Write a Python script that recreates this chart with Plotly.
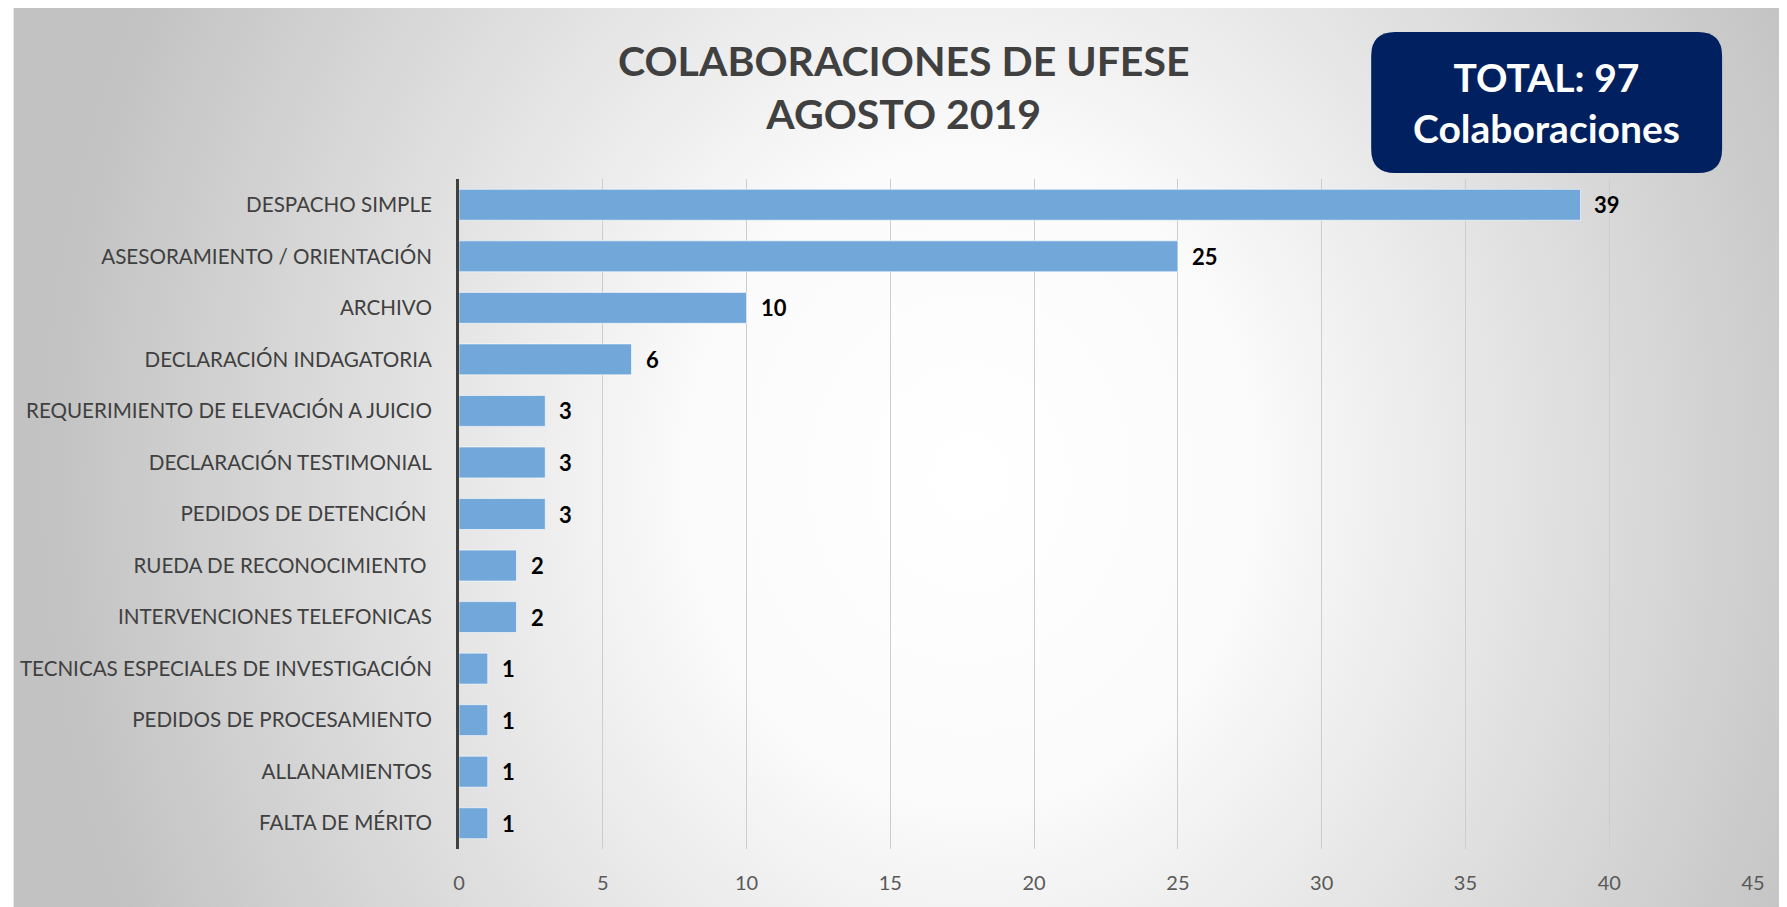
import base64
import plotly.graph_objects as go

categorias = [
    "DESPACHO SIMPLE",
    "ASESORAMIENTO / ORIENTACIÓN",
    "ARCHIVO",
    "DECLARACIÓN INDAGATORIA",
    "REQUERIMIENTO DE ELEVACIÓN A JUICIO",
    "DECLARACIÓN TESTIMONIAL",
    "PEDIDOS DE DETENCIÓN\u00a0",
    "RUEDA DE RECONOCIMIENTO\u00a0",
    "INTERVENCIONES TELEFONICAS",
    "TECNICAS ESPECIALES DE INVESTIGACIÓN",
    "PEDIDOS DE PROCESAMIENTO",
    "ALLANAMIENTOS",
    "FALTA DE MÉRITO",
]
valores = [39, 25, 10, 6, 3, 3, 3, 2, 2, 1, 1, 1, 1]
ticks_x = [0, 5, 10, 15, 20, 25, 30, 35, 40, 45]
titulo = "COLABORACIONES DE UFESE<br>AGOSTO 2019"
total_txt = "TOTAL: 97<br>Colaboraciones"

# the page adds an 8px margin, so the figure is 8px smaller than the window
W, H = 1779, 899
L, R, T, B = 447, 1745, 171, 841   # plot area in pixels
pw, ph = R - L, B - T


def px(x):
    return (x - L) / pw


def py(y):
    return (B - y) / ph


# radial grey background, like the excel chart area
bg_svg = (
    "<svg xmlns='http://www.w3.org/2000/svg' width='1779' height='899' "
    "viewBox='0 0 1779 899' preserveAspectRatio='none'>"
    "<defs><radialGradient id='g' gradientUnits='userSpaceOnUse' cx='960' cy='470' r='930' "
    "gradientTransform='translate(960 470) scale(1 1.15) translate(-960 -470)'>"
    "<stop offset='0' stop-color='#ffffff'/><stop offset='0.3' stop-color='#fbfbfb'/>"
    "<stop offset='1' stop-color='#c2c2c2'/></radialGradient></defs>"
    "<rect width='1779' height='899' fill='url(#g)'/></svg>"
)
bg_src = "data:image/svg+xml;base64," + base64.b64encode(bg_svg.encode()).decode()

fig = go.Figure(go.Bar(
    x=valores, y=categorias, orientation="h",
    marker=dict(color="#72a7da", line=dict(color="rgba(255,255,255,0.6)", width=1)),
    width=0.6, hoverinfo="skip",
))

# value labels right of each bar
for c, v in zip(categorias, valores):
    fig.add_annotation(x=v, y=c, text=str(v), showarrow=False, xanchor="left",
                       xshift=12, font=dict(family="Lato", size=22, color="black", weight="bold"))

# rounded navy box with total
x0, x1, y0, y1, r = 1362, 1714, 24, 165, 24
path = (f"M {px(x0 + r)} {py(y0)} L {px(x1 - r)} {py(y0)} Q {px(x1)} {py(y0)} {px(x1)} {py(y0 + r)} "
        f"L {px(x1)} {py(y1 - r)} Q {px(x1)} {py(y1)} {px(x1 - r)} {py(y1)} "
        f"L {px(x0 + r)} {py(y1)} Q {px(x0)} {py(y1)} {px(x0)} {py(y1 - r)} "
        f"L {px(x0)} {py(y0 + r)} Q {px(x0)} {py(y0)} {px(x0 + r)} {py(y0)} Z")
fig.add_shape(type="path", path=path, xref="paper", yref="paper",
              fillcolor="#00205f", line=dict(width=0))
fig.add_annotation(x=px((x0 + x1) / 2), y=py((y0 + y1) / 2), xref="paper", yref="paper",
                   xanchor="center", yanchor="middle",
                   text=total_txt, showarrow=False, align="center",
                   font=dict(family="Lato", size=39, color="white", weight="bold"))

# title
fig.add_annotation(x=px(893), y=py(79), xref="paper", yref="paper",
                   xanchor="center", yanchor="middle", text=titulo, showarrow=False,
                   align="center", font=dict(family="Lato", size=41, color="#404040", weight="bold"))

fig.add_layout_image(source=bg_src, xref="paper", yref="paper", x=px(0), y=py(0),
                     sizex=W / pw, sizey=H / ph, sizing="stretch",
                     xanchor="left", yanchor="top", layer="below")

fig.update_layout(
    width=W, height=H,
    margin=dict(l=L, r=W - R, t=T, b=H - B),
    paper_bgcolor="white", plot_bgcolor="rgba(0,0,0,0)",
    showlegend=False,
    xaxis=dict(range=[0, 45], tickvals=ticks_x, showgrid=True, gridcolor="#cdcdcd",
               gridwidth=1, zeroline=False, showline=False, ticks="",
               ticklabelstandoff=20, tickfont=dict(family="Lato", size=20, color="#595959")),
    yaxis=dict(autorange="reversed", showgrid=False, showline=True, linecolor="#404040",
               linewidth=3, ticks="", ticklabelstandoff=20,
               tickfont=dict(family="Lato", size=20.6, color="#404040")),
)

fig.write_html("out.html")
